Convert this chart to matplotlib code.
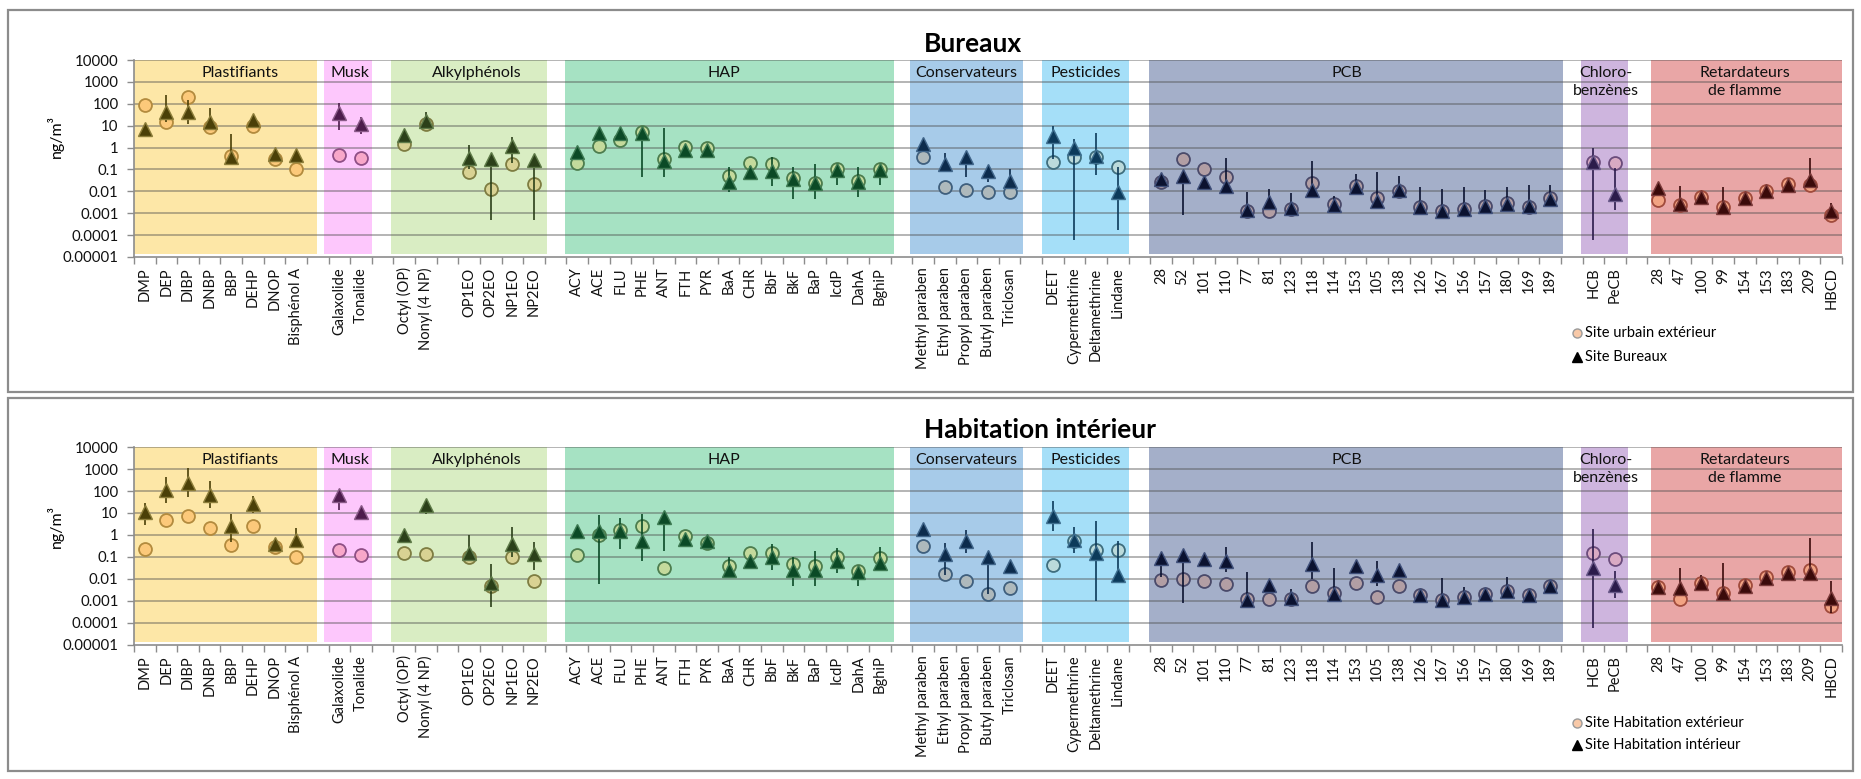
import numpy as np
import matplotlib
matplotlib.use("Agg")
import matplotlib.pyplot as plt
from matplotlib.patches import Rectangle
from matplotlib.lines import Line2D
import matplotlib.transforms as mtransforms

plt.rcParams['font.family'] = ['Lato', 'DejaVu Sans']

# ---------------- data ----------------
groups = ['Plastifiants', 'Musk', 'Alkylphénols', 'HAP', 'Conservateurs',
          'Pesticides', 'PCB', 'Chloro-\nbenzènes', 'Retardateurs\nde flamme']

group_labels = [
    ['DMP', 'DEP', 'DIBP', 'DNBP', 'BBP', 'DEHP', 'DNOP', 'Bisphénol A'],
    ['Galaxolide', 'Tonalide'],
    ['Octyl (OP)', 'Nonyl (4 NP)', '', 'OP1EO', 'OP2EO', 'NP1EO', 'NP2EO'],
    ['ACY', 'ACE', 'FLU', 'PHE', 'ANT', 'FTH', 'PYR', 'BaA', 'CHR', 'BbF', 'BkF',
     'BaP', 'IcdP', 'DahA', 'BghiP'],
    ['Methyl paraben', 'Ethyl paraben', 'Propyl paraben', 'Butyl paraben', 'Triclosan'],
    ['DEET', 'Cypermethrine', 'Deltamethrine', 'Lindane'],
    ['28', '52', '101', '110', '77', '81', '123', '118', '114', '153', '105', '138',
     '126', '167', '156', '157', '180', '169', '189'],
    ['HCB', 'PeCB'],
    ['28', '47', '100', '99', '154', '153', '183', '209', 'HBCD'],
]

yticks = [1e-5, 1e-4, 1e-3, 1e-2, 1e-1, 1, 10, 100, 1000, 10000]
ytick_labels = ['0.00001', '0.0001', '0.001', '0.01', '0.1', '1', '10', '100', '1000', '10000']

# Bureaux panel: outdoor urban site (circles)
bur_ext = [
    [90, 15, 210, 9.0, 0.41, 10, 0.30, 0.10],
    [0.44, 0.34],
    [1.4, 12.2, None, 0.073, 0.0123, 0.18, 0.022],
    [0.19, 1.2, 2.2, 5.3, 0.30, 1.1, 0.93, 0.051, 0.20, 0.17, 0.042, 0.025, 0.10, 0.030, 0.105],
    [0.36, 0.015, 0.012, 0.0092, 0.0098],
    [0.23, 0.36, 0.39, 0.135],
    [0.027, 0.29, 0.11, 0.043, 0.0013, 0.0013, 0.0015, 0.023, 0.0026, 0.017, 0.0052,
     0.010, 0.0020, 0.0012, 0.0015, 0.0021, 0.0030, 0.0020, 0.0050],
    [0.23, 0.20],
    [0.0040, 0.0024, 0.0058, 0.0019, 0.0049, 0.010, 0.021, 0.019, 0.00081],
]
# Bureaux panel: office site (triangles)
bur_in = [
    [7.1, 41, 44, 15, 0.36, 18, 0.50, 0.44],
    [37.5, 11.4],
    [3.6, 16, None, 0.34, 0.31, 1.12, 0.28],
    [0.63, 4.8, 4.8, 4.8, 0.25, 0.80, 0.80, 0.027, 0.080, 0.087, 0.035, 0.024, 0.090, 0.027, 0.090],
    [1.46, 0.18, 0.38, 0.089, 0.029],
    [3.5, 0.95, 0.43, 0.009],
    [0.035, 0.050, 0.026, 0.017, 0.0014, 0.0033, 0.0017, 0.012, 0.0023, 0.015, 0.0035,
     0.011, 0.0019, 0.0013, 0.0015, 0.0021, 0.0026, 0.0022, 0.0044],
    [0.21, 0.0079],
    [0.014, 0.0026, 0.0058, 0.0019, 0.0049, 0.010, 0.020, 0.032, 0.0012],
]
bur_lo = [
    [None, 14, 11.6, 9, 0.3, 10, None, None],
    [6.5, 4.3],
    [None, 12, None, 0.1, 0.0005, 0.2, 0.00048],
    [None, None, None, 0.043, 0.046, None, None, 0.0095, 0.034, 0.017, 0.0043, 0.0046, 0.02, 0.0056, 0.02],
    [None, 0.1, 0.044, 0.028, 0.015],
    [0.3, 0.000063, 0.057, 0.00017],
    [None, 0.0008, None, 0.012, 0.001, 0.002, 0.001, 0.008, 0.0015, 0.01, 0.002, 0.007,
     0.0013, 0.0008, 0.001, 0.0015, 0.002, 0.0015, 0.004],
    [0.00006, 0.0014],
    [None, 0.0015, None, 0.0012, None, None, None, 0.015, 0.0008],
]
bur_hi = [
    [None, 250, 150, 62, 4.0, 25, None, None],
    [107, 24],
    [None, 42, None, 1.25, 0.36, 3.0, 0.29],
    [None, None, None, 6, 7.5, None, None, 0.13, 0.15, 0.36, 0.13, 0.17, 0.12, 0.13, 0.15],
    [None, 0.55, 0.45, 0.1, 0.105],
    [10, 2.5, 4.7, 0.13],
    [None, 0.06, None, 0.32, 0.0097, 0.013, 0.008, 0.24, 0.006, 0.065, 0.08, 0.05,
     0.015, 0.013, 0.015, 0.011, 0.016, 0.02, 0.02],
    [1.0, 0.12],
    [None, 0.018, None, 0.016, None, None, None, 0.35, 0.003],
]

# Habitation panel: outdoor site (circles)
hab_ext = [
    [0.23, 4.6, 7.5, 2.0, 0.36, 2.5, 0.30, 0.10],
    [0.21, 0.12],
    [0.15, 0.13, None, 0.095, 0.0046, 0.095, 0.0085],
    [0.126, 1.0, 1.7, 2.6, 0.031, 0.90, 0.43, 0.041, 0.16, 0.16, 0.049, 0.041, 0.095, 0.023, 0.090],
    [0.32, 0.0165, 0.0085, 0.0020, 0.0041],
    [0.044, 0.51, 0.20, 0.20],
    [0.0091, 0.0098, 0.0085, 0.0060, 0.0012, 0.0012, 0.0012, 0.0049, 0.0022, 0.0069, 0.0015,
     0.0046, 0.0019, 0.0011, 0.0015, 0.0021, 0.0029, 0.0019, 0.0046],
    [0.15, 0.080],
    [0.0042, 0.0012, 0.0069, 0.0024, 0.0054, 0.012, 0.020, 0.026, 0.00060],
]
# Habitation panel: indoor site (triangles)
hab_in = [
    [10.6, 107, 230, 68, 2.6, 26, 0.40, 0.60],
    [68, 10.6],
    [1.0, 23, None, 0.16, 0.0065, 0.40, 0.14],
    [1.45, 1.6, 1.6, 0.56, 6.5, 0.65, 0.56, 0.026, 0.069, 0.10, 0.026, 0.026, 0.063, 0.020, 0.056],
    [1.85, 0.14, 0.51, 0.105, 0.040],
    [7.0, 0.60, 0.16, 0.0155],
    [0.089, 0.126, 0.083, 0.063, 0.0011, 0.0054, 0.0013, 0.049, 0.0021, 0.040, 0.0155,
     0.026, 0.0018, 0.0011, 0.0015, 0.0021, 0.0029, 0.0019, 0.0049],
    [0.031, 0.0054],
    [0.0042, 0.0041, 0.0065, 0.0022, 0.0049, 0.011, 0.0195, 0.018, 0.0013],
]
hab_lo = [
    [2.9, 28, 53, 17, 0.5, 10, None, 0.25],
    [13, None],
    [None, 9.3, None, 0.08, 0.00052, 0.1, 0.026],
    [None, 0.006, 0.23, 0.063, 0.18, None, None, 0.012, None, 0.027, 0.0049, 0.0046, 0.019, 0.0049, 0.022],
    [None, 0.016, 0.16, 0.002, 0.026],
    [1.5, 0.16, 0.001, 0.0155],
    [0.012, 0.00079, None, 0.02, 0.001, None, 0.001, 0.01, 0.0015, None, 0.005, None,
     None, 0.0009, 0.0012, None, 0.002, None, 0.003],
    [0.00006, 0.0014],
    [None, 0.002, 0.004, 0.0012, None, None, 0.015, 0.01, 0.0003],
]
hab_hi = [
    [28, 430, 1100, 300, 9.3, 60, None, 2.0],
    [90, None],
    [None, 30, None, 1.0, 0.049, 2.2, 0.5],
    [None, 8.4, 6.0, 9.3, 10, None, None, 0.1, None, 0.37, 0.1, 0.18, 0.26, 0.03, 0.28],
    [None, 0.45, 1.7, 0.15, 0.06],
    [34, 2.4, 4.5, 0.52],
    [0.09, 0.15, None, 0.28, 0.02, None, 0.0035, 0.48, 0.032, None, 0.067, None,
     None, 0.011, 0.0045, None, 0.012, None, 0.007],
    [1.9, 0.022],
    [None, 0.032, 0.015, 0.053, None, None, 0.03, 0.7, 0.0085],
]

# ---------------- styles ----------------
bg_colors = ['#FDE7A7', '#FDC7FC', '#D9EDC3', '#A6E2C3', '#A7CBE9', '#A5DFF8', '#A4AFC9', '#CEB5DE', '#E9A6A6']
circ_fill = ['#FCC97A', '#F8A7C9', '#D9D293', '#C4DA9C', '#AEB9BC', '#BBDADB', '#B29EA4', '#D9AAC3', '#F2A383']
circ_edge = ['#B38B3E', '#8F4F86', '#7E7D42', '#4D7D4E', '#3F5F7D', '#3F6E7E', '#4A4A6A', '#6B4C7C', '#A04B3C']
tri_fill = ['#4B4008', '#4D1C4C', '#2B4019', '#0B4A26', '#0C2B4C', '#0C3A5A', '#0B1230', '#2B1B4B', '#3B0A0A']
tri_edge = ['#8C7D3A', '#8A5A88', '#5E7A48', '#3D7A52', '#40658A', '#3F7090', '#40507A', '#6A5A8A', '#7A3A3A']
pad_left = [0, 0.2, 0.1, 0.05, 0.1, 0, 0.05, 0.05, -0.15]
pad_right = [0.45, 0, 0.1, 0.15, 0.1, 0, 0.1, 0.1, 0]
label_shift = [0.9, 0, 0.35, -0.2, 0, 0, -0.4, 0.1, 0]

W, H = 1861, 779
fig = plt.figure(figsize=(W / 100, H / 100), dpi=100)


def fx(px):
    return px / W


def fy(py):
    return 1 - py / H


# layout of slots: one blank slot between groups
starts = []
pos = 0
for gi, labs in enumerate(group_labels):
    starts.append(pos)
    pos += len(labs) + 1
n_slots = pos - 1

all_labels = []
for gi, labs in enumerate(group_labels):
    all_labels += labs
    if gi < len(group_labels) - 1:
        all_labels.append('')

# panel frames
for (y0, y1) in [(10, 392), (398, 771)]:
    fig.add_artist(Rectangle((fx(8), fy(y1)), fx(1853) - fx(8), fy(y0) - fy(y1),
                             transform=fig.transFigure, fill=False,
                             edgecolor='#8c8c8c', lw=1.6))


def draw_panel(ax, ext, inn, lo, hi):
    ax.set_yscale('log')
    ax.set_ylim(1e-5, 1e4)
    ax.set_xlim(-0.5, n_slots - 0.5)
    trans = mtransforms.blended_transform_factory(ax.transData, ax.transAxes)
    for gi, labs in enumerate(group_labels):
        s = starts[gi]
        e = s + len(labs)
        ax.axvspan(s - 0.5 - pad_left[gi], e - 0.5 + pad_right[gi], ymin=0.015, ymax=1.0,
                   color=bg_colors[gi], lw=0, zorder=0)
        ax.text((s + e - 1) / 2 + label_shift[gi], 0.968, groups[gi], transform=trans,
                ha='center', va='top', fontsize=11.5, linespacing=1.3,
                color='#111111', zorder=6)
        xs_c, ys_c, xs_t, ys_t, xb, lb, hb = [], [], [], [], [], [], []
        for k in range(len(labs)):
            x = s + k
            if ext[gi][k] is not None:
                xs_c.append(x)
                ys_c.append(ext[gi][k])
            if inn[gi][k] is not None:
                xs_t.append(x)
                ys_t.append(inn[gi][k])
            if lo[gi][k] is not None:
                xb.append(x)
                lb.append(lo[gi][k])
                hb.append(hi[gi][k])
        ax.plot(xs_c, ys_c, 'o', ls='', ms=9.3, mfc=circ_fill[gi], mec=circ_edge[gi],
                mew=1.3, zorder=3)
        if xb:
            ax.vlines(xb, lb, hb, colors=tri_fill[gi], lw=1.2, zorder=4)
        ax.plot(xs_t, ys_t, '^', ls='', ms=9.6, mfc=tri_fill[gi], mec=tri_edge[gi],
                mew=1.0, zorder=5)
    for ev in range(-4, 5):
        ax.axhline(10.0 ** ev, color='#4d4d4d', alpha=0.45, lw=1.3, zorder=1)
    # axes styling
    for sp in ['top', 'right']:
        ax.spines[sp].set_visible(False)
    for sp in ['left', 'bottom']:
        ax.spines[sp].set_color('#8c8c8c')
        ax.spines[sp].set_linewidth(1.2)
    ax.set_yticks(yticks)
    ax.set_yticklabels(ytick_labels)
    ax.yaxis.set_minor_locator(matplotlib.ticker.NullLocator())
    ax.tick_params(axis='y', which='major', length=5, width=1.0, color='#8c8c8c',
                   labelsize=10.8, pad=6, labelcolor='#111111')
    ax.set_xticks(np.arange(-0.5, n_slots, 1.0))
    ax.set_xticklabels([])
    ax.set_xticks(np.arange(n_slots), minor=True)
    ax.set_xticklabels(all_labels, minor=True, rotation=90, fontsize=10.5, color='#111111')
    ax.tick_params(axis='x', which='major', length=5, width=1.0, color='#8c8c8c')
    ax.tick_params(axis='x', which='minor', length=0, pad=7.5)
    ax.set_facecolor('none')


ax1 = fig.add_axes([fx(134), fy(257), fx(1842) - fx(134), fy(60) - fy(257)])
draw_panel(ax1, bur_ext, bur_in, bur_lo, bur_hi)
ax2 = fig.add_axes([fx(134), fy(645), fx(1842) - fx(134), fy(447) - fy(645)])
draw_panel(ax2, hab_ext, hab_in, hab_lo, hab_hi)

# titles
fig.text(fx(924), fy(52), 'Bureaux', ha='left', va='baseline', fontsize=19, weight='bold')
fig.text(fx(924), fy(438), 'Habitation intérieur', ha='left', va='baseline', fontsize=19,
         weight='bold')

# y labels
fig.text(fx(55), fy(137), 'ng/m³', rotation=90, ha='center', va='center', fontsize=11.5)
fig.text(fx(55), fy(526), 'ng/m³', rotation=90, ha='center', va='center', fontsize=11.5)


# legends
def legend(y1, y2, t1, t2):
    fig.add_artist(Line2D([fx(1577)], [fy(y1)], marker='o', ms=6.5, mfc='#F8C9A8',
                          mec='#9a9a9a', mew=1.0, ls='', transform=fig.transFigure))
    fig.add_artist(Line2D([fx(1577)], [fy(y2)], marker='^', ms=6.5, mfc='black',
                          mec='black', ls='', transform=fig.transFigure))
    fig.text(fx(1585), fy(y1), t1, ha='left', va='center', fontsize=10.5)
    fig.text(fx(1585), fy(y2), t2, ha='left', va='center', fontsize=10.5)


legend(333, 357, 'Site urbain extérieur', 'Site Bureaux')
legend(723, 745, 'Site Habitation extérieur', 'Site Habitation intérieur')

fig.savefig('out.png', dpi=100)
